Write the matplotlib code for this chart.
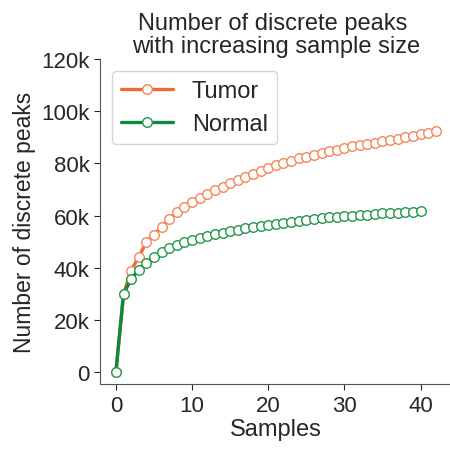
import matplotlib
matplotlib.use("Agg")
import matplotlib.pyplot as plt
import seaborn as sns
from matplotlib.ticker import FuncFormatter

tumor = [0, 30.0, 38.9, 44.3, 49.7, 52.7, 55.5, 58.7, 61.2, 63.1, 65.1,
         66.7, 68.3, 69.7, 71.1, 72.4, 73.7, 74.9, 76.1, 77.2, 78.3,
         79.3, 80.2, 81.1, 81.9, 82.6, 83.3, 84.0, 84.7, 85.3, 85.9,
         86.5, 87.0, 87.5, 88.0, 88.5, 89.0, 89.5, 90.0, 90.6, 91.1,
         91.8, 92.5]
normal = [0, 29.8, 35.7, 39.2, 42.0, 44.3, 46.1, 47.4, 48.7, 49.7, 50.7,
          51.5, 52.2, 52.9, 53.5, 54.1, 54.6, 55.1, 55.6, 56.0, 56.4,
          56.8, 57.2, 57.6, 58.0, 58.4, 58.7, 59.0, 59.3, 59.6, 59.8,
          60.0, 60.2, 60.4, 60.6, 60.8, 61.0, 61.1, 61.3, 61.4, 61.6]
tumor = [v * 1000 for v in tumor]
normal = [v * 1000 for v in normal]
x_tumor = list(range(len(tumor)))
x_normal = list(range(len(normal)))
yticks = [0, 20000, 40000, 60000, 80000, 100000, 120000]

sns.set_style("ticks")
plt.rcParams['font.family'] = ['Liberation Sans', 'DejaVu Sans']

fig = plt.figure(figsize=(4.5, 4.52), dpi=100)
ax = fig.add_axes([0.222, 0.148, 0.782, 0.719])

c_t = '#f06a32'
c_n = '#0b8a3f'
ax.plot(x_tumor, tumor, '-o', color=c_t, lw=2.4, ms=6.9, mfc='white',
        mec='#f4875a', mew=1.0, label='Tumor')
ax.plot(x_normal, normal, '-o', color=c_n, lw=2.4, ms=6.9, mfc='white',
        mec='#249650', mew=1.0, label='Normal')

ax.set_ylim(top=120000)
ax.set_yticks(yticks)
ax.yaxis.set_major_formatter(FuncFormatter(lambda v, p: '0' if v == 0 else f'{int(v/1000)}k'))
ax.set_xticks([0, 10, 20, 30, 40])
ax.tick_params(labelsize=16, colors='#262626', length=4)
for lbl in ax.get_xticklabels() + ax.get_yticklabels():
    lbl.set_color('#262626')
ax.set_xlabel('Samples', fontsize=17, color='#262626', labelpad=2)
ax.set_ylabel('Number of discrete peaks', fontsize=16.5, color='#262626', labelpad=4)
ax.set_title('Number of discrete peaks \nwith increasing sample size', fontsize=17,
             color='#262626', pad=5, linespacing=1.05)
sns.despine(ax=ax)
for s in ['left', 'bottom']:
    ax.spines[s].set_color('#555555')
ax.legend(loc='upper left', fontsize=17, frameon=True, handlelength=2.2,
          borderaxespad=0.5, labelspacing=0.45)

fig.savefig('out.png', dpi=100)
